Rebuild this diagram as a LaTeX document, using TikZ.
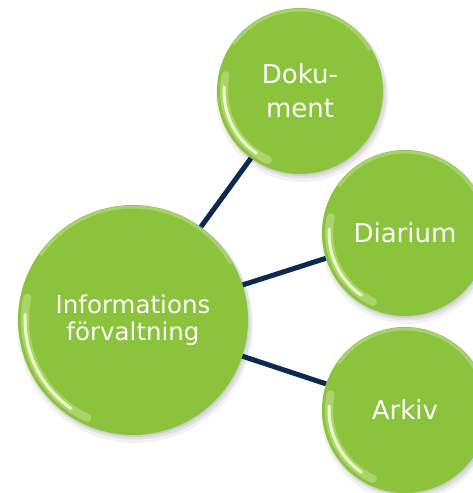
\documentclass[tikz,border=0pt]{standalone}
\usepackage{fontspec}
\setmainfont{DejaVu Sans}
\usetikzlibrary{calc}
\definecolor{ballgreen}{RGB}{139,195,61}
\definecolor{navy}{RGB}{12,42,80}
\definecolor{glossc}{RGB}{245,255,215}
\tikzset{
  ball/.style={circle, fill=ballgreen, text=white, inner sep=0pt, align=center},
  link/.style={draw=navy, line width=5pt},
  glosssoft/.style={glossc, line width=8pt, line cap=round, opacity=0.3},
  gloss/.style={glossc, line width=3pt, line cap=round, opacity=0.9},
  rim/.style={ballgreen!55!white, line width=3pt, opacity=0.55},
}
\newcommand{\shadowball}[2]{%
  \fill[black, opacity=0.05] ($(#1)+(2,5)$) circle (#2+3);
  \fill[black, opacity=0.07] ($(#1)+(2,3)$) circle (#2+1.5);
  \fill[black, opacity=0.08] ($(#1)+(1,2)$) circle (#2);
}
\newcommand{\glossball}[2]{%
  \draw[rim] ($(#1)+(215:#2-2)$) arc[start angle=215, end angle=330, radius=#2-2];
  \draw[glosssoft] ($(#1)+(115:#2-7)$) arc[start angle=115, end angle=192, radius=#2-7];
  \draw[gloss] ($(#1)+(125:#2-7)$) arc[start angle=125, end angle=183, radius=#2-7];
}
\begin{document}
\begin{tikzpicture}[x=1pt, y=-1pt]
\useasboundingbox (0,0) rectangle (473,493);
\clip (0,0) rectangle (473,493);
\coordinate (ci) at (133,320);
\coordinate (cd) at (300,91);
\coordinate (cr) at (405,233);
\coordinate (ca) at (405,410);
\shadowball{ci}{115}
\shadowball{cd}{83}
\shadowball{cr}{83}
\shadowball{ca}{83}
% balls
\node[ball, minimum size=230pt, font=\fontsize{24.5}{27}\selectfont] (info) at (ci) {Informations\\förvaltning};
\node[ball, minimum size=166pt, font=\fontsize{26}{34}\selectfont] (dok) at (cd) {Doku-\\ment};
\node[ball, minimum size=166pt, font=\fontsize{26}{34}\selectfont] (dia) at (cr) {Diarium};
\node[ball, minimum size=166pt, font=\fontsize{26}{34}\selectfont] (ark) at (ca) {Arkiv};
% gloss highlights
\glossball{ci}{115}
\glossball{cd}{83}
\glossball{cr}{83}
\glossball{ca}{83}
% connectors
\draw[link] (info) -- (dok);
\draw[link] (info) -- (dia);
\draw[link] (info) -- (ark);
\end{tikzpicture}
\end{document}
